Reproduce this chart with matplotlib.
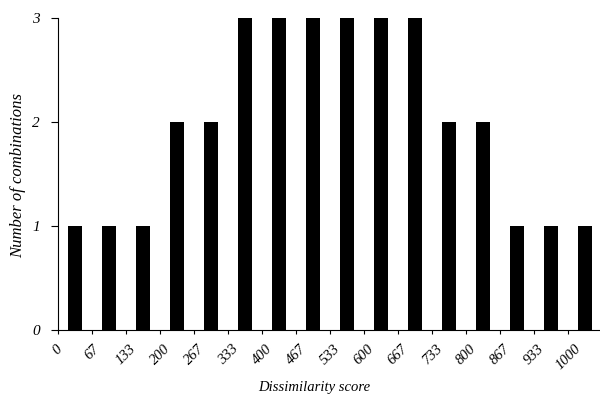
import matplotlib
matplotlib.use("Agg")
import matplotlib.pyplot as plt
import numpy as np

# datos
scores = ["0", "67", "133", "200", "267", "333", "400", "467", "533",
          "600", "667", "733", "800", "867", "933", "1000"]
counts = [1, 1, 1, 2, 2, 3, 3, 3, 3, 3, 3, 2, 2, 1, 1, 1]

plt.rcParams["font.family"] = ["Liberation Serif", "DejaVu Serif"]
plt.rcParams["font.style"] = "italic"

fig = plt.figure(figsize=(6, 4.01), dpi=100)
ax = fig.add_axes([58 / 600, 71 / 401, 542 / 600, 312 / 401])

x = np.arange(len(counts))
ax.bar(x, counts, width=0.42, color="black")

ax.set_xlim(-0.5, 15.44)
ax.set_ylim(0, 3)
ax.set_xticks(x - 0.5)
ax.set_xticklabels(scores, rotation=45, ha="center", fontsize=10.5, style="italic")
ax.set_yticks([0, 1, 2, 3])
ax.set_yticklabels(["0", "1", "2", "3"], fontsize=11, style="italic")
ax.tick_params(axis="x", length=3, width=0.8, pad=6)
ax.tick_params(axis="y", length=5, width=0.8, pad=8)

ax.spines["top"].set_visible(False)
ax.spines["right"].set_visible(False)
for s in ["left", "bottom"]:
    ax.spines[s].set_linewidth(0.8)

fig.text(314 / 600, 1 - 388 / 401, "Dissimilarity score", ha="center", va="center",
         fontsize=10.5, style="italic")
fig.text(18 / 600, 1 - 175 / 401, "Number of combinations", ha="center", va="center",
         rotation=90, fontsize=12, style="italic")

fig.savefig("out.png", dpi=100)
